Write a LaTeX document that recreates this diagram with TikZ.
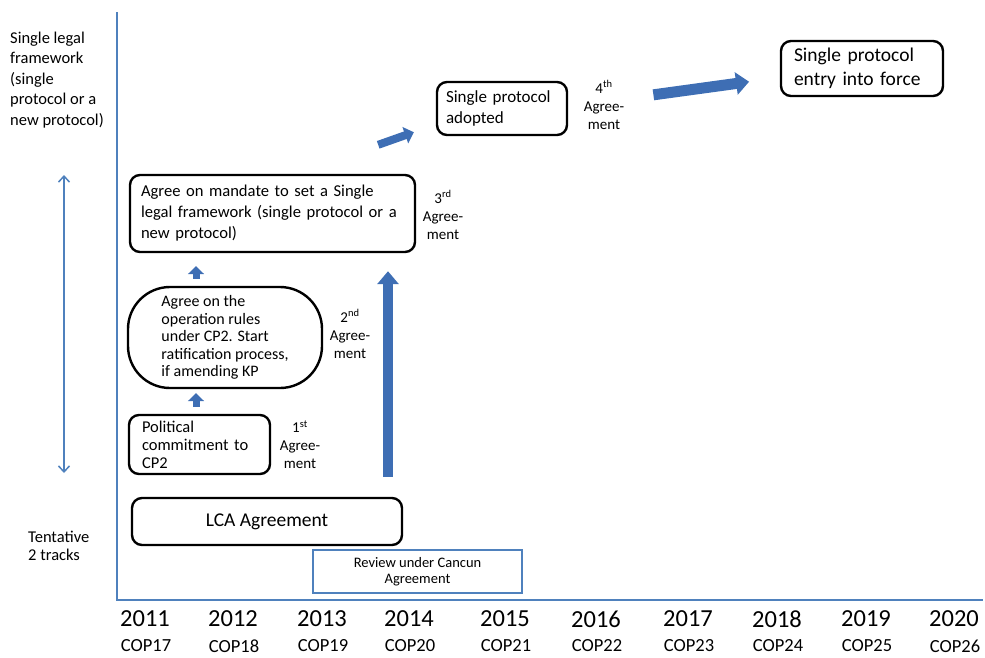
\documentclass[tikz,border=0pt]{standalone}
\usepackage{fontspec}
\setmainfont{Carlito}
\usetikzlibrary{positioning,arrows.meta}
\definecolor{AxisBlue}{RGB}{79,129,189}
\definecolor{ArrowBlue}{RGB}{62,110,180}
\tikzset{
  axisline/.style={draw=AxisBlue,line width=1.3pt},
  flowbox/.style={draw=black,line width=2.4pt,rounded corners=10pt,fill=white,
    align=left,inner xsep=12pt,inner ysep=0pt,font=\fontsize{17}{21}\selectfont},
  ovalbox/.style={flowbox,rounded corners=42pt,font=\fontsize{16}{17.5}\selectfont},
  reviewbox/.style={draw=AxisBlue,line width=2.2pt,align=center,inner sep=0pt,
    font=\fontsize{14.5}{16.5}\selectfont},
  agreelabel/.style={align=center,inner sep=0pt,font=\fontsize{15}{18}\selectfont},
  sidelabel/.style={align=left,anchor=west,inner sep=0pt,font=\fontsize{16.5}{20.5}\selectfont},
  yearlabel/.style={inner sep=0pt,font=\fontsize{24.5}{28}\selectfont},
  coplabel/.style={inner sep=0pt,font=\fontsize{18.5}{22}\selectfont},
  smallarrow/.style={draw=ArrowBlue,line width=7pt,-{Triangle[length=8pt,width=16pt]}},
  fatarrow/.style={draw=ArrowBlue,line width=10pt,-{Triangle[length=13pt,width=21pt]}},
  tiparrow/.style={draw=AxisBlue,line width=1.5pt,
    {Straight Barb[length=6pt,width=11pt]}-{Straight Barb[length=6pt,width=11pt]}}
}

\begin{document}
\begin{tikzpicture}[x=1pt,y=-1pt]
  \useasboundingbox (0,0) rectangle (985,657);
  \coordinate (ytop) at (117,12);
  \coordinate (origin) at (117,600);
  \coordinate (xend) at (983,600);
  \draw[axisline] (ytop) -- (origin) -- (xend);
  \foreach \xpos/\yr/\cop in {145/2011/17,233/2012/18,322/2013/19,409/2014/20,505/2015/21,
      596/2016/22,688/2017/23,777/2018/24,866/2019/25,954/2020/26}{
    \node[yearlabel] (y\yr) at (\xpos,619) {\yr};
    \node[coplabel] (c\yr) at (\xpos+1,646) {COP\cop};
  }

  \node[sidelabel] (framework) at (10,80) {Single legal\\framework\\(single\\protocol or a\\new protocol)};
  \node[sidelabel,font=\fontsize{16.5}{18}\selectfont] (tracks) at (28,546) {Tentative\\2 tracks};
  \coordinate (vtop) at (64,175);
  \coordinate (vbot) at (64,473);
  \draw[tiparrow] (vtop) -- (vbot);

  \node[flowbox,text width=263pt,inner xsep=11pt,minimum height=77pt,
    font=\fontsize{16.6}{21}\selectfont] (mandate) at (272.5,213.5)
    {Agree on mandate to set a Single\\legal framework (single protocol or a\\new protocol)};
  \node[ovalbox,minimum width=194pt,minimum height=101pt] (oval) at (225,337.5)
    {Agree on the\\operation rules\\under CP2. Start\\ratification process,\\if amending KP};
  \node[flowbox,text width=115pt,inner xsep=13pt,minimum height=59pt,
    font=\fontsize{16.5}{18}\selectfont] (political) at (199.5,444.5) {Political\\commitment to\\CP2};
  \node[flowbox,align=center,minimum width=270pt,minimum height=47pt,
    font=\fontsize{19.5}{24}\selectfont] (lca) at (267,521.5) {LCA Agreement};
  \node[reviewbox,minimum width=209pt,minimum height=43pt] (review) at (417.5,571.5)
    {Review under Cancun\\Agreement};
  \node[flowbox,text width=112pt,inner xsep=9pt,minimum height=53pt] (adopted) at (502,108.5)
    {Single protocol\\adopted};
  \node[flowbox,text width=136pt,inner xsep=13pt,minimum height=55pt,
    font=\fontsize{19.5}{24}\selectfont] (entry) at (862,68.5) {Single protocol\\entry into force};

  \node[agreelabel] (agr1) at (300,445) {1\textsuperscript{st}\\Agree-\\ment};
  \node[agreelabel] (agr2) at (350,334) {2\textsuperscript{nd}\\Agree-\\ment};
  \node[agreelabel] (agr3) at (443,215) {3\textsuperscript{rd}\\Agree-\\ment};
  \node[agreelabel] (agr4) at (604,105) {4\textsuperscript{th}\\Agree-\\ment};

  \draw[smallarrow,shorten <=7pt,shorten >=4pt]
    ([xshift=-3.5pt]political.north) -- ([xshift=-3.5pt]political.north |- oval.south);
  \draw[smallarrow,shorten <=7pt,shorten >=13pt]
    ([xshift=-29pt]oval.north) -- ([xshift=-29pt]oval.north |- mandate.south);
  \draw[fatarrow,shorten <=20pt,shorten >=18pt]
    ([xshift=121pt]lca.north) -- ([xshift=121pt]lca.north |- mandate.south);
  \draw[smallarrow,line width=8pt,-{Triangle[length=9pt,width=17pt]}]
    ([xshift=-38pt,yshift=29pt]mandate.north east) -- ([xshift=-22pt,yshift=4pt]adopted.south west);
  \draw[fatarrow,line width=11pt,-{Triangle[length=13pt,width=22pt]},shorten <=86pt,shorten >=31pt]
    ([yshift=2pt]adopted.east) -- ([yshift=-9pt]entry.west);
\end{tikzpicture}
\end{document}
